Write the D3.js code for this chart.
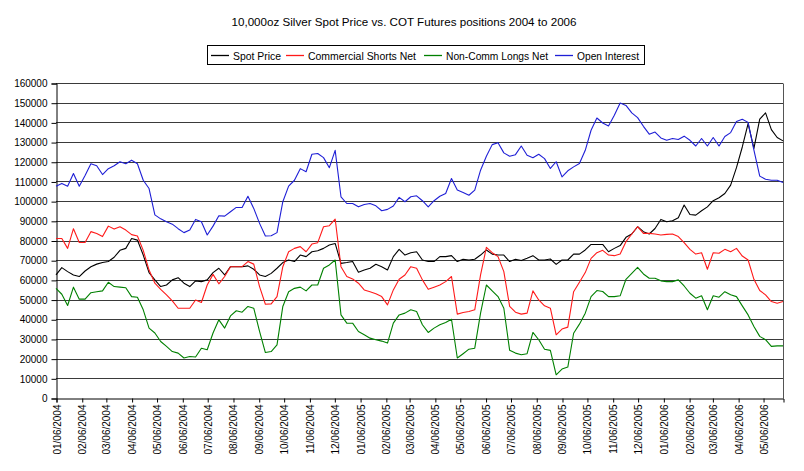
<!DOCTYPE html>
<html>
<head>
<meta charset="utf-8">
<script src="https://cdn.jsdelivr.net/npm/d3@7"></script>
<style>
  html, body { margin: 0; padding: 0; background: #fff; }
  svg { display: block; font-family: "Liberation Sans", Arial, sans-serif; }
</style>
</head>
<body>
<svg id="chart" width="804" height="471"></svg>
<script>
// ---- data (values in thousands of contracts; spot price scaled onto the same axis) ----
const startDate = "01/06/2004";

const spotPrice = [
  62.5, 66.2, 64.2, 62.5, 61.7, 64.5, 66.7, 68, 68.8, 69.3, 71.5, 75, 76, 81, 80.2, 72.6,
  63.7, 60, 56.6, 57.4, 60, 61.1, 58.3, 56.6, 59.5, 59.1, 60, 63.7, 65.9, 62.5, 66.7, 66.7,
  66.7, 67.1, 65.4, 62.5, 61.7, 63.3, 65.9, 68.8, 70.1, 69.3, 72.6, 71.8, 74.3, 74.8, 76, 77.7,
  78.5, 68.4, 68.8, 69.3, 63.9, 65, 65.9, 67.9, 66.7, 65, 71.8, 75.5, 72.6, 73.8, 74.3, 70.1,
  69.3, 69.3, 71.8, 71.8, 72.3, 69.3, 70.5, 70.1, 70.5, 72.6, 75.2, 73.1, 72.6, 72.6, 69.3, 70.5,
  69.8, 71, 72.3, 70.1, 70.1, 70.6, 67.9, 70.1, 70.1, 73.1, 73.1, 75.2, 78, 78,
  78, 74.3, 76, 77.4, 81.6, 83.3, 87, 84.5, 83.3, 86.1, 90.7, 89.5, 90, 91.6, 98, 93.2,
  92.9, 95.1, 97.1, 100.2, 101.7, 103.9, 108.1, 117, 127.5, 139.4, 126.8, 141.6, 144.8, 136.3, 132.3, 130.6
];
const commercialShortsNet = [
  81, 81, 76, 86, 79, 79, 84.5, 83.6, 82, 87.3, 85.8, 87, 85.3, 83, 82.3, 75,
  65, 58.3, 55.2, 52.4, 49.3, 45.6, 45.6, 45.6, 49.8, 48.5, 57.4, 62.8, 58, 61.7, 66.7, 66.7,
  66.7, 69.3, 68, 56.6, 47.6, 47.8, 51.5, 66.7, 74.3, 76, 76.9, 74.3, 78.2, 78.9, 87, 87.5,
  90.9, 66.7, 61.7, 60.5, 58.3, 54.9, 54, 52.9, 51.5, 47.3, 54.9, 60.3, 62.5, 66.7, 65.9, 60,
  55.2, 56.3, 57.4, 59.1, 61.7, 42.6, 43.4, 43.9, 44.8, 62.5, 76.5, 73.8, 71.8, 64.2, 46.5, 43.6,
  42.6, 43.1, 54.4, 49.8, 46.8, 45.6, 32.1, 35, 36, 54, 58.8, 63.7, 70.9, 73.8,
  75, 72.6, 72.3, 73.1, 79.4, 83.3, 87, 83.6, 83.6, 83.3, 82.8, 83.1, 83.3, 82, 78.9, 75.5,
  73.1, 73.8, 65.4, 73.8, 73.5, 75.5, 74.3, 76, 72.1, 70.1, 60.3, 54.6, 52.4, 49, 48.1, 49
];
const nonCommLongsNet = [
  55.7, 52.7, 47, 56.3, 50.2, 50.2, 53.5, 54, 54.4, 58.8, 56.6, 56.3, 56, 51.5, 51.2, 44.8,
  35.5, 33, 28.7, 26.2, 23.6, 22.8, 20.3, 21.1, 20.8, 25.3, 24.5, 33, 39.7, 35.5, 41.7, 44.3,
  43.6, 46.5, 45.6, 33.8, 23.1, 23.6, 27, 46.5, 54, 55.7, 56.3, 54.4, 57.4, 57.4, 65.9, 67.6,
  70.1, 42.2, 38, 38, 33.8, 32.1, 30.4, 29.6, 28.9, 27.9, 38, 42.2, 43.1, 44.8, 43.9, 37.2,
  33.3, 35.5, 37.2, 38.3, 40, 20.3, 22.5, 24.8, 25.3, 43.1, 57.4, 54.4, 51.5, 45.6, 24.2, 22.8,
  22, 22.5, 33.3, 29.6, 24.8, 24.2, 11.8, 14.7, 15.7, 32.9, 37.5, 43.1, 51.5, 54.6,
  54.1, 51.5, 51.5, 51.9, 60.3, 63.3, 66.4, 63, 60.8, 60.8, 59.5, 59.1, 59.1, 60, 56.9, 53.2,
  50.7, 51.9, 44.8, 51.9, 51.2, 54, 52.4, 51.5, 46.8, 42.2, 36.3, 31.3, 29.6, 26.2, 26.5, 26.5
];
const openInterest = [
  107.6, 109, 107.6, 114, 107.6, 113, 119, 118, 113.5, 116.5, 118, 120, 119, 120.8, 119, 110.6,
  106.4, 93, 91, 89.5, 88.3, 86, 84, 85.3, 90.7, 89.5, 82.8, 87.3, 92.6, 92.4, 94.6, 96.8,
  96.8, 102.5, 96.3, 88.7, 82.3, 82.4, 84, 99.7, 107.6, 110.6, 116.5, 114.9, 123.8, 124.2, 122.1, 117,
  125.8, 102.2, 98.8, 98.8, 97.1, 98.3, 98.8, 97.6, 95.1, 95.8, 97.5, 101.9, 99.7, 102.2, 102.7, 100.2,
  97.1, 100.2, 102.5, 103.9, 111.5, 105.6, 104.4, 103, 105.6, 115.7, 122.8, 128.7, 129.7, 124.5, 122.8, 123.6,
  128, 123.3, 122, 123.8, 121.6, 116.6, 120, 112.3, 115.4, 117.4, 119.1, 125.8, 136, 142.2,
  139.7, 138.2, 143.6, 149.8, 148.6, 144.8, 142.4, 138, 134, 135.1, 132.1, 130.9, 131.8, 131.3, 133, 130.9,
  128, 131.8, 128, 132.3, 128, 132.8, 134.8, 140.4, 141.6, 140, 125.9, 112.7, 111.1, 110.6, 110.6, 109.5
];
const seriesNames = ["Spot Price", "Commercial Shorts Net", "Non-Comm Longs Net", "Open Interest"];
const seriesColors = ["#000000", "#ff1a1a", "#008000", "#1f1fd6"];
const xTickLabels = [
  "01/06/2004","02/06/2004","03/06/2004","04/06/2004","05/06/2004","06/06/2004","07/06/2004",
  "08/06/2004","09/06/2004","10/06/2004","11/06/2004","12/06/2004","01/06/2005","02/06/2005",
  "03/06/2005","04/06/2005","05/06/2005","06/06/2005","07/06/2005","08/06/2005","09/06/2005",
  "10/06/2005","11/06/2005","12/06/2005","01/06/2006","02/06/2006","03/06/2006","04/06/2006","05/06/2006"
];
const yTicks = [0,10000,20000,30000,40000,50000,60000,70000,80000,90000,100000,110000,120000,130000,140000,150000,160000];
const titleText = "10,000oz Silver Spot Price vs. COT Futures positions 2004 to 2006";

// ---- setup ----
const parse = d3.timeParse("%m/%d/%Y");
const fmt = d3.timeFormat("%m/%d/%Y");
const t0 = parse(startDate);
// weekly report dates, one per value
const weekDates = spotPrice.map((_, i) => d3.timeDay.offset(t0, 7 * i));

const svg = d3.select("#chart");
const L = 56, R = 783, T = 83, B = 398;
const x = d3.scaleTime().domain([t0, weekDates[weekDates.length - 1]]).range([L, R]);
const y = d3.scaleLinear().domain([0, 160000]).range([B, T]);

// gridlines
svg.append("g").selectAll("line").data(yTicks.filter(d => d > 0)).join("line")
  .attr("x1", L).attr("x2", R)
  .attr("y1", d => Math.round(y(d)) + 0.5).attr("y2", d => Math.round(y(d)) + 0.5)
  .attr("stroke", "#3a3a3a").attr("stroke-width", 1);

// right border
svg.append("line").attr("x1", R + 0.5).attr("x2", R + 0.5).attr("y1", Math.round(T) + 0.5).attr("y2", B + 0.5)
  .attr("stroke", "#555").attr("stroke-width", 1);

// y axis
const yAxis = d3.axisLeft(y).tickValues(yTicks).tickSize(5).tickPadding(4).tickFormat(d3.format("d"));
const gy = svg.append("g").attr("transform", `translate(${L + 0.5},0.5)`).call(yAxis);
gy.select(".domain").attr("stroke", "#000");
gy.selectAll(".tick line").attr("stroke", "#000");
gy.selectAll("text").attr("font-size", 10).attr("fill", "#000")
  .attr("font-family", "'Liberation Sans', Arial, sans-serif");

// x axis
const xAxis = d3.axisBottom(x).tickValues(xTickLabels.map(parse)).tickSize(4).tickFormat(fmt);
const gx = svg.append("g").attr("transform", `translate(0.5,${B + 0.5})`).call(xAxis);
gx.select(".domain").attr("stroke", "#000");
gx.selectAll(".tick line").attr("stroke", "#000");
gx.selectAll("text")
  .attr("font-size", 10).attr("fill", "#000")
  .attr("font-family", "'Liberation Sans', Arial, sans-serif")
  .attr("transform", "rotate(-90)")
  .attr("text-anchor", "end")
  .attr("x", -6).attr("y", 0).attr("dy", "0.35em");

// lines
const allSeries = [spotPrice, commercialShortsNet, nonCommLongsNet, openInterest];
const line = d3.line().x((d, i) => x(weekDates[i])).y(d => y(d * 1000));
svg.append("g").selectAll("path").data(allSeries).join("path")
  .attr("d", d => line(d))
  .attr("fill", "none")
  .attr("stroke", (d, i) => seriesColors[i])
  .attr("stroke-width", 1.1)
  .attr("stroke-linejoin", "round");

// title
svg.append("text").attr("x", 404).attr("y", 26).attr("text-anchor", "middle")
  .attr("font-size", 11).attr("fill", "#000")
  .attr("textLength", 345).attr("lengthAdjust", "spacingAndGlyphs")
  .text(titleText);

// legend
const lg = svg.append("g");
lg.append("rect").attr("x", 207.5).attr("y", 45.5).attr("width", 437).attr("height", 19)
  .attr("fill", "#fff").attr("stroke", "#000").attr("stroke-width", 1);
const legendX = [211, 286, 424, 555];
const legendTextW = [48, 108, 102, 62];
const items = lg.selectAll("g.item").data(seriesNames).join("g").attr("class", "item")
  .attr("transform", (d, i) => `translate(${legendX[i]},0)`);
items.append("path")
  .attr("d", "M0,55.5H18")
  .attr("fill", "none")
  .attr("stroke", (d, i) => seriesColors[i])
  .attr("stroke-width", 1.3);
items.append("text").attr("x", 22).attr("y", 59.5)
  .attr("font-size", 11).attr("fill", "#000")
  .attr("textLength", (d, i) => legendTextW[i]).attr("lengthAdjust", "spacingAndGlyphs")
  .text(d => d);
</script>
</body>
</html>
